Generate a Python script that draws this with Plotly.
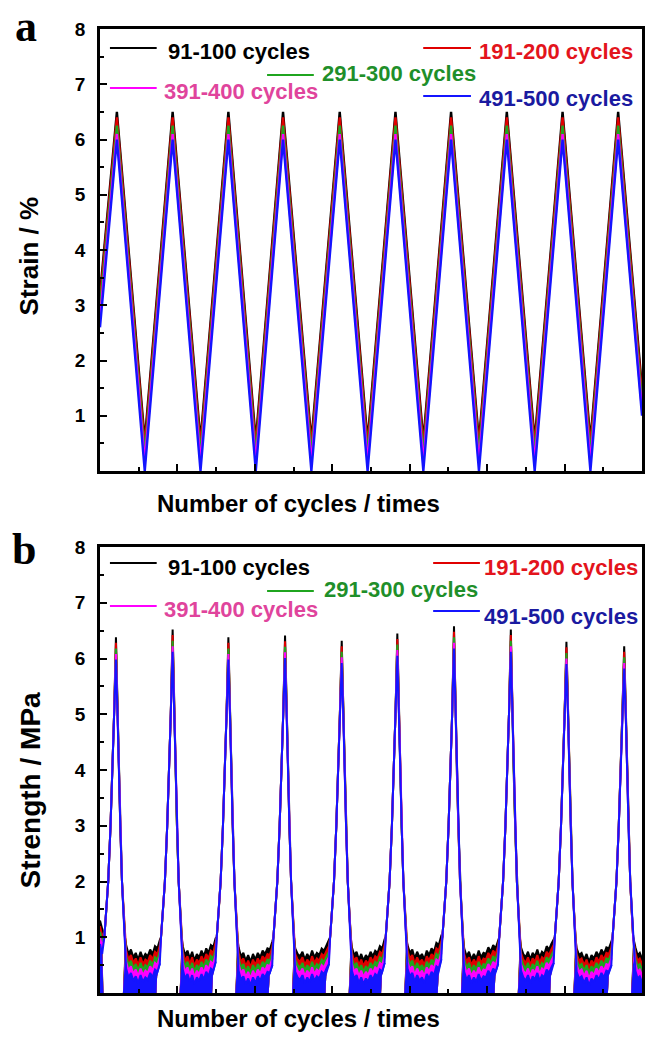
import plotly.graph_objects as go

FONT = "Liberation Sans"
SERIF = "Liberation Serif"

# ---------------- data ----------------
series_names = ["91-100 cycles", "191-200 cycles", "291-300 cycles", "391-400 cycles", "491-500 cycles"]
line_colors = ["#000000", "#e00000", "#1fa51f", "#ff00ff", "#1414ff"]
text_colors = ["#000000", "#e3141c", "#1f8f2a", "#e0449c", "#1a1aa0"]

# panel a : strain vertices (time in s)
strain_time = [0, 10.9, 28.9, 46.9, 64.9, 82.9, 100.6, 118.2, 136.5, 154.8, 172.8,
               190.8, 208.8, 226.7, 244.7, 262.7, 280.7, 298.7, 316.7, 334.6, 350]
strain_black = [3.2, 6.5, 0.55, 6.5, 0.55, 6.5, 0.55, 6.5, 0.55, 6.5, 0.55,
                6.5, 0.55, 6.5, 0.55, 6.5, 0.55, 6.5, 0.55, 6.5, 1.5]
strain_red = [3.1, 6.4, 0.45, 6.4, 0.45, 6.4, 0.45, 6.4, 0.45, 6.4, 0.45,
              6.4, 0.45, 6.4, 0.45, 6.4, 0.45, 6.4, 0.45, 6.4, 1.4]
strain_green = [2.95, 6.25, 0.3, 6.25, 0.3, 6.25, 0.3, 6.25, 0.3, 6.25, 0.3,
                6.25, 0.3, 6.25, 0.3, 6.25, 0.3, 6.25, 0.3, 6.25, 1.25]
strain_magenta = [2.75, 6.1, 0.15, 6.1, 0.15, 6.1, 0.15, 6.1, 0.15, 6.1, 0.15,
                  6.1, 0.15, 6.1, 0.15, 6.1, 0.15, 6.1, 0.15, 6.1, 1.1]
strain_blue = [2.6, 6.0, 0.0, 6.0, 0.0, 6.0, 0.0, 6.0, 0.0, 6.0, 0.0,
               6.0, 0.0, 6.0, 0.0, 6.0, 0.0, 6.0, 0.0, 6.0, 1.0]

# panel b : strength
stress_peak_time = [10.3, 46.9, 82.9, 119.5, 156.1, 192.0, 228.6, 265.3, 301.2, 338.5]
peak_black = [6.38, 6.52, 6.38, 6.41, 6.32, 6.45, 6.58, 6.52, 6.30, 6.22]
peak_red = [6.28, 6.42, 6.28, 6.31, 6.22, 6.35, 6.48, 6.42, 6.20, 6.12]
peak_green = [6.18, 6.32, 6.18, 6.21, 6.12, 6.25, 6.38, 6.32, 6.10, 6.02]
peak_magenta = [6.08, 6.22, 6.08, 6.11, 6.02, 6.15, 6.28, 6.22, 6.00, 5.92]
peak_blue = [5.98, 6.12, 5.98, 6.01, 5.92, 6.05, 6.18, 6.12, 5.90, 5.82]

# flank of each stress peak (offset from peak time, value)
load_dt = [-7.5, -6.2, -5.0, -3.5, -2.2, -1.2]
load_val = [1.0, 1.5, 2.0, 3.0, 4.0, 5.0]
unload_dt = [1.0, 1.8, 2.8, 3.9, 4.8, 5.8]
unload_val = [5.0, 4.0, 3.0, 2.0, 1.5, 1.0]

# valley noise, upper envelope of the 91-100 cycles curve
lead_t = [0, 1.4]
lead_env = [1.3, 1.12]
valley_env = [
    [0.86, 0.70, 0.78, 0.64, 0.72, 0.60, 0.74, 0.62, 0.70, 0.66, 0.78, 0.70, 0.84, 0.80, 0.95],
    [0.84, 0.68, 0.76, 0.62, 0.74, 0.58, 0.70, 0.64, 0.76, 0.66, 0.80, 0.72, 0.86, 0.82, 0.98],
    [0.82, 0.66, 0.72, 0.58, 0.68, 0.56, 0.70, 0.60, 0.72, 0.64, 0.76, 0.70, 0.80, 0.78, 0.92],
    [0.80, 0.70, 0.66, 0.74, 0.60, 0.70, 0.62, 0.76, 0.64, 0.72, 0.68, 0.80, 0.76, 0.86, 0.94],
    [0.82, 0.68, 0.74, 0.60, 0.70, 0.58, 0.68, 0.62, 0.74, 0.66, 0.76, 0.72, 0.84, 0.80, 0.96],
    [0.86, 0.72, 0.78, 0.62, 0.74, 0.64, 0.70, 0.60, 0.76, 0.68, 0.80, 0.74, 0.90, 0.86, 1.02],
    [0.80, 0.66, 0.74, 0.60, 0.70, 0.62, 0.76, 0.64, 0.72, 0.70, 0.82, 0.74, 0.86, 0.80, 0.94],
    [0.82, 0.70, 0.64, 0.74, 0.60, 0.72, 0.66, 0.78, 0.64, 0.74, 0.70, 0.84, 0.78, 0.88, 0.96],
    [0.80, 0.68, 0.72, 0.60, 0.70, 0.56, 0.68, 0.62, 0.74, 0.66, 0.78, 0.70, 0.82, 0.80, 0.92],
]
tail_env = [0.82, 0.68, 0.72, 0.62]
# how far each series' valley band sits below the 91-100 band
band_drop = [0.0, 0.1, 0.2, 0.3, 0.42]

strain_series = [strain_black, strain_red, strain_green, strain_magenta, strain_blue]
peak_series = [peak_black, peak_red, peak_green, peak_magenta, peak_blue]

X_END = 350


def stress_line(tips, drop):
    xs, ys = [], []
    for t, v in zip(lead_t, lead_env):
        xs.append(t); ys.append(v - drop)
    n_p = len(stress_peak_time)
    for k, tp in enumerate(stress_peak_time):
        for dt, v in zip(load_dt, load_val):
            xs.append(tp + dt); ys.append(v)
        xs.append(tp); ys.append(tips[k])
        for dt, v in zip(unload_dt, unload_val):
            xs.append(tp + dt); ys.append(v)
        start = tp + unload_dt[-1]
        if k < n_p - 1:
            end = stress_peak_time[k + 1] + load_dt[0]
            env = valley_env[k]
            n = len(env)
            for i, v in enumerate(env):
                xs.append(start + (end - start) * (i + 0.5) / n); ys.append(v - drop)
        else:
            env = tail_env
            n = len(env)
            for i, v in enumerate(env):
                xs.append(start + (X_END - start) * (i + 1) / n); ys.append(v - drop)
    return xs, ys


def stress_fill(drop):
    xs, ys = [], []
    xs += [0, 0]; ys += [0, lead_env[0] - drop]
    xs.append(lead_t[1]); ys.append(lead_env[1] - drop)
    xs.append(stress_peak_time[0] + load_dt[0] - 0.6); ys.append(0)
    xs.append(None); ys.append(None)
    n_p = len(stress_peak_time)
    for k, tp in enumerate(stress_peak_time):
        start = tp + unload_dt[-1]
        xs.append(tp + 4.5); ys.append(0)
        xs.append(start); ys.append(1.0 - drop)
        if k < n_p - 1:
            end = stress_peak_time[k + 1] + load_dt[0]
            env = valley_env[k]
            n = len(env)
            for i, v in enumerate(env):
                xs.append(start + (end - start) * (i + 0.5) / n); ys.append(v - drop)
            xs.append(end); ys.append(env[-1] - drop)
            xs.append(end - 2.5); ys.append(0.3)
            xs.append(end - 3.0); ys.append(0)
        else:
            env = tail_env
            n = len(env)
            for i, v in enumerate(env):
                xs.append(start + (X_END - start) * (i + 1) / n); ys.append(v - drop)
            xs.append(X_END); ys.append(0)
        xs.append(None); ys.append(None)
    return xs, ys


fig = go.Figure()

# panel a
for s in range(5):
    fig.add_trace(go.Scatter(x=strain_time, y=strain_series[s], mode="lines",
                             line=dict(color=line_colors[s], width=2.4),
                             xaxis="x", yaxis="y", showlegend=False, hoverinfo="skip"))

# panel b
for s in range(5):
    fx, fy = stress_fill(band_drop[s])
    fig.add_trace(go.Scatter(x=fx, y=fy, mode="lines", fill="toself",
                             fillcolor=line_colors[s], line=dict(width=0, color=line_colors[s]),
                             xaxis="x2", yaxis="y2", showlegend=False, hoverinfo="skip"))
    lx, ly = stress_line(peak_series[s], band_drop[s])
    fig.add_trace(go.Scatter(x=lx, y=ly, mode="lines",
                             line=dict(color=line_colors[s], width=2),
                             xaxis="x2", yaxis="y2", showlegend=False, hoverinfo="skip"))

# ---------------- layout ----------------
W, H = 649, 1038
ML, MR, MT, MB = 100, 4, 29, 45
PW, PH = W - ML - MR, H - MT - MB


def px(x):
    return (x - ML) / PW


def py(y):
    return (H - MB - y) / PH


y1_dom = [py(471), 1.0]
y2_dom = [0.0, py(547)]

tickfont = dict(family=FONT, size=19, color="black", weight="bold")

xcommon = dict(range=[0, X_END], showgrid=False, zeroline=False, showline=True,
               linecolor="black", linewidth=2.5, mirror=True, ticks="inside",
               ticklen=7, tickwidth=2, tickcolor="black", tick0=0, dtick=50,
               showticklabels=False,
               minor=dict(ticks="inside", ticklen=4, tickwidth=2, tickcolor="black", dtick=25, tick0=0))
ycommon = dict(range=[0, 8], showgrid=False, zeroline=False, showline=True,
               linecolor="black", linewidth=2.5, mirror=True, ticks="inside",
               ticklen=7, tickwidth=2, tickcolor="black",
               tickmode="array", tickvals=[1, 2, 3, 4, 5, 6, 7, 8],
               ticktext=["1", "2", "3", "4", "5", "6", "7", "8"],
               tickfont=tickfont, ticklabelstandoff=8,
               minor=dict(ticks="inside", ticklen=4, tickwidth=2, tickcolor="black", dtick=0.5, tick0=0))

annotations = []
shapes = []


def add_text(txt, x, y, size, color="black", family=FONT, angle=0, xanchor="center"):
    annotations.append(dict(text="<b>" + txt + "</b>", x=px(x), y=py(y), xref="paper", yref="paper",
                            showarrow=False, xanchor=xanchor, yanchor="middle", textangle=angle,
                            font=dict(family=family, size=size, color=color)))


def add_legend(idx, x0, x1, yl, xt, yt):
    shapes.append(dict(type="line", xref="paper", yref="paper", x0=px(x0), x1=px(x1),
                       y0=py(yl), y1=py(yl), line=dict(color=line_colors[idx], width=2)))
    add_text(series_names[idx], xt, yt, 22, text_colors[idx], xanchor="left")


# legends panel a
add_legend(0, 110, 157, 48, 166, 51)
add_legend(3, 110, 157, 88, 162, 91)
add_legend(2, 268, 315, 75, 321, 74)
add_legend(1, 425, 473, 48, 479, 51)
add_legend(4, 425, 473, 96, 479, 99)
# legends panel b
add_legend(0, 110, 157, 563, 166, 567)
add_legend(3, 110, 157, 606, 162, 609)
add_legend(2, 268, 315, 591, 323, 590)
add_legend(1, 435, 482, 563, 484, 567)
add_legend(4, 435, 482, 611, 484, 616)

# titles
add_text("Number of cycles / times", 300, 503, 24)
add_text("Number of cycles / times", 300, 1019, 24)
add_text("Strain / %", 29, 256, 26, angle=-90)
add_text("Strength / MPa", 30, 790, 28, angle=-90)
add_text("a", 26, 26, 44, family=SERIF)
add_text("b", 24, 549, 44, family=SERIF)

fig.update_layout(
    width=W, height=H, margin=dict(l=ML, r=MR, t=MT, b=MB, pad=0),
    paper_bgcolor="white", plot_bgcolor="white", showlegend=False,
    xaxis=dict(domain=[0, 1], anchor="y", **xcommon),
    yaxis=dict(domain=y1_dom, anchor="x", **ycommon),
    xaxis2=dict(domain=[0, 1], anchor="y2", **xcommon),
    yaxis2=dict(domain=y2_dom, anchor="x2", **ycommon),
    annotations=annotations, shapes=shapes,
)

fig.write_html("out.html", config={"displayModeBar": False},
               post_script="document.body.style.margin='0';document.body.style.overflow='hidden';")
